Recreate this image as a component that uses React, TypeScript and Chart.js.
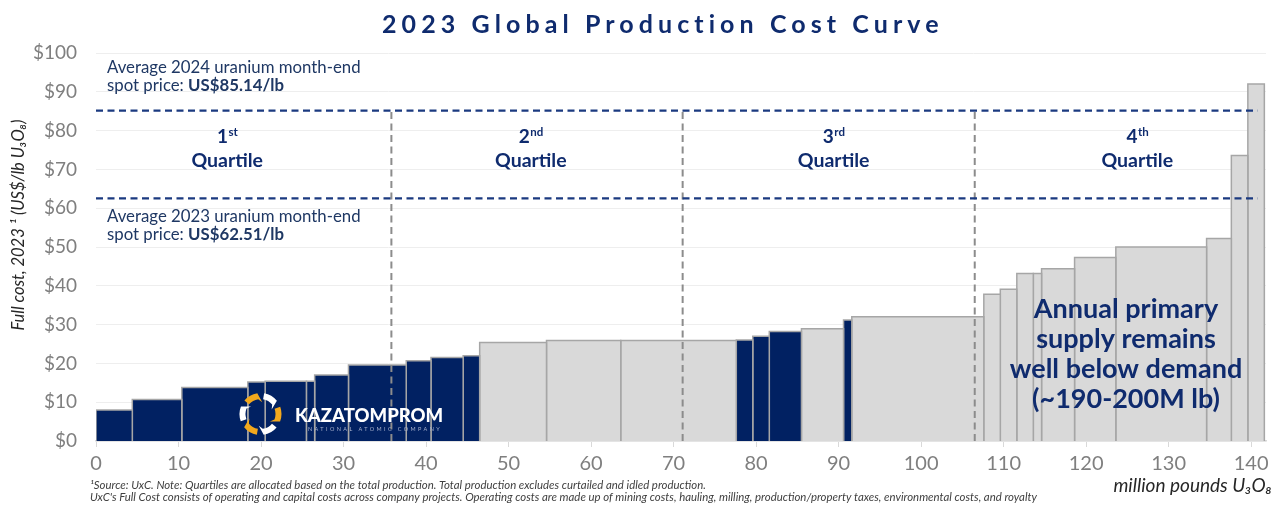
import React, { useEffect, useRef } from 'react';
import { Chart, registerables } from 'chart.js';

Chart.register(...registerables);

// production of each project (million lb U3O8), sorted by full cost
const volumes = [4.4, 6.0, 8.0, 2.1, 5.0, 1.0, 4.1, 7.0, 3.0, 3.9, 2.0, 8.1, 9.0, 14.0, 2.0, 2.0, 3.9, 5.1, 1.0, 16.0, 2.0, 2.0, 2.0, 1.0, 4.0, 5.0, 11.0, 3.0, 2.0, 2.0];
// full cost per project (US$/lb)
const costs = [8.0, 10.7, 13.8, 15.2, 15.4, 15.4, 17.0, 19.6, 20.7, 21.5, 22.0, 25.4, 25.9, 25.9, 26.0, 27.0, 28.2, 28.9, 31.2, 32.0, 37.8, 39.1, 43.2, 43.2, 44.4, 47.3, 50.0, 52.2, 73.6, 92.0];
// projects of Kazatomprom (navy)
const isKazatomprom = [true, true, true, true, true, true, true, true, true, true, true, false, false, false, true, true, true, false, true, false, false, false, false, false, false, false, false, false, false, false];

const spotYears = ['2024', '2023'];
const spotPrices = [85.14, 62.51];
const quartileBreaks = [35.8, 71.1, 106.5];
const quartileNumbers = ['1', '2', '3', '4'];
const quartileSuffixes = ['st', 'nd', 'rd', 'th'];

const xTicks = [0, 10, 20, 30, 40, 50, 60, 70, 80, 90, 100, 110, 120, 130, 140];
const yTicks = [0, 10, 20, 30, 40, 50, 60, 70, 80, 90, 100];

const NAVY = '#012162';
const TEXT_NAVY = '#0f2b6e';
const GREY = '#d9d9d9';
const EDGE = '#a6a6a6';
const FONT = "Lato, 'Open Sans', sans-serif";

const drawLogo = (ctx: CanvasRenderingContext2D, cx: number, cy: number) => {
  for (let k = 0; k < 6; k++) {
    const a0 = (-140 + k * 60) * Math.PI / 180;
    const a1 = a0 + 0.72;
    ctx.beginPath();
    ctx.arc(cx, cy, 21, a0, a1);
    ctx.lineTo(cx + Math.cos(a1 + 0.3) * 12, cy + Math.sin(a1 + 0.3) * 12);
    ctx.arc(cx, cy, 15, a1, a0, true);
    ctx.closePath();
    ctx.fillStyle = k % 2 === 0 ? '#f2a81d' : '#ffffff';
    ctx.fill();
  }
};

const overlay = {
  id: 'costCurveOverlay',
  afterDatasetsDraw(chart: any) {
    const { ctx, scales } = chart;
    const x = scales.x;
    const y = scales.y;
    ctx.save();
    ctx.textBaseline = 'alphabetic';

    // quartile labels
    const labelAt = [15.9, 52.7, 89.4, 126.2];
    quartileNumbers.forEach((num, i) => {
      const cx = x.getPixelForValue(labelAt[i]);
      ctx.fillStyle = TEXT_NAVY;
      ctx.font = `bold 19px ${FONT}`;
      const wn = ctx.measureText(num).width;
      ctx.font = `bold 11.5px ${FONT}`;
      const ws = ctx.measureText(quartileSuffixes[i]).width;
      const start = cx - (wn + ws) / 2;
      ctx.textAlign = 'left';
      ctx.font = `bold 19px ${FONT}`;
      ctx.fillText(num, start, 143);
      ctx.font = `bold 11.5px ${FONT}`;
      ctx.fillText(quartileSuffixes[i], start + wn + 0.5, 136);
      ctx.textAlign = 'center';
      ctx.font = `bold 19.5px ${FONT}`;
      ctx.fillText('Quartile', cx, 166.5);
    });

    // spot price notes
    spotPrices.forEach((price, i) => {
      const py = y.getPixelForValue(price);
      const b1 = i === 0 ? py - 38 : py + 23.5;
      const b2 = b1 + 18;
      const left = 107;
      ctx.textAlign = 'left';
      ctx.fillStyle = '#1f3864';
      ctx.font = `16.8px ${FONT}`;
      ctx.fillText(`Average ${spotYears[i]} uranium month-end`, left, b1);
      const lead = 'spot price: ';
      ctx.fillText(lead, left, b2);
      const w = ctx.measureText(lead).width;
      ctx.font = `bold 16.8px ${FONT}`;
      ctx.fillText(`US$${price.toFixed(2)}/lb`, left + w, b2);
    });

    // demand note
    ctx.textAlign = 'center';
    ctx.fillStyle = TEXT_NAVY;
    ctx.font = `bold 27px ${FONT}`;
    ['Annual primary', 'supply remains', 'well below demand', '(~190-200M lb)'].forEach((line, i) => {
      ctx.fillText(line, 1126, 318 + i * 30);
    });

    // logo
    drawLogo(ctx, 260.5, 414);
    ctx.textAlign = 'left';
    ctx.fillStyle = '#ffffff';
    ctx.font = `900 18.5px ${FONT}`;
    ctx.fillText('KAZATOMPROM', 295, 421.5);
    ctx.fillStyle = '#a9b2cc';
    ctx.font = `5.5px ${FONT}`;
    (ctx as any).letterSpacing = '2.4px';
    ctx.fillText('NATIONAL ATOMIC COMPANY', 308, 430.5);
    (ctx as any).letterSpacing = '0px';
    ctx.restore();
  },
  afterDraw(chart: any) {
    const { ctx } = chart;
    ctx.save();

    // title, spaced out to its width
    const title = '2023 Global Production Cost Curve';
    ctx.font = `bold 25px ${FONT}`;
    const plain = ctx.measureText(title).width;
    const spacing = (557 - plain) / (title.length - 1);
    (ctx as any).letterSpacing = `${spacing}px`;
    ctx.fillStyle = TEXT_NAVY;
    ctx.textAlign = 'left';
    ctx.textBaseline = 'alphabetic';
    ctx.fillText(title, 382, 33);
    (ctx as any).letterSpacing = '0px';

    // axis titles
    ctx.fillStyle = '#262626';
    ctx.save();
    ctx.translate(19, 225);
    ctx.rotate(-Math.PI / 2);
    ctx.textAlign = 'center';
    ctx.textBaseline = 'middle';
    ctx.font = `italic 16.5px ${FONT}`;
    ctx.fillText('Full cost, 2023 \u00B9 (US$/lb U\u2083O\u2088)', 0, 0);
    ctx.restore();

    ctx.textAlign = 'right';
    ctx.font = `italic 19px ${FONT}`;
    ctx.fillText('million pounds U\u2083O\u2088', 1272, 492);

    // footnotes
    ctx.textAlign = 'left';
    ctx.fillStyle = '#404040';
    ctx.font = `italic 11.4px ${FONT}`;
    ctx.fillText('\u00B9Source: UxC. Note: Quartiles are allocated based on the total production. Total production excludes curtailed and idled production.', 90, 489);
    ctx.fillText("UxC's Full Cost consists of operating and capital costs across company projects. Operating costs are made up of mining costs, hauling, milling, production/property taxes, environmental costs, and royalty", 90, 500.5);
    ctx.restore();
  },
};

const CostCurveChart = () => {
  const chartRef = useRef<HTMLCanvasElement>(null);
  const chartInstance = useRef<Chart | null>(null);

  useEffect(() => {
    if (!chartRef.current) return;
    if (chartInstance.current) chartInstance.current.destroy();

    let left = 0;
    const bars = volumes.map((w, i) => {
      const x0 = left;
      const x1 = left + w;
      left = x1;
      return {
        data: [
          { x: x0, y: 0 },
          { x: x0, y: costs[i] },
          { x: x1, y: costs[i] },
          { x: x1, y: 0 },
        ],
        fill: 'origin',
        backgroundColor: isKazatomprom[i] ? NAVY : GREY,
        borderColor: EDGE,
        borderWidth: 1.5,
        order: 2,
      };
    });

    const spotLines = spotPrices.map((p) => ({
      data: [{ x: 0, y: p }, { x: 140.8, y: p }],
      borderColor: '#1b3a80',
      borderWidth: 2.2,
      borderDash: [7, 4.5],
      fill: false,
      order: 0,
    }));

    const quartileLines = quartileBreaks.map((q) => ({
      data: [{ x: q, y: 0 }, { x: q, y: spotPrices[0] }],
      borderColor: '#8c8c8c',
      borderWidth: 2,
      borderDash: [7, 4.5],
      fill: false,
      order: 1,
    }));

    chartInstance.current = new Chart(chartRef.current, {
      type: 'line',
      data: { datasets: [...bars, ...quartileLines, ...spotLines] as any },
      options: {
        animation: false,
        responsive: true,
        maintainAspectRatio: false,
        layout: { padding: { top: 53, right: 14, left: 0, bottom: 0 } },
        elements: { line: { tension: 0 }, point: { radius: 0, hoverRadius: 0 } },
        plugins: {
          legend: { display: false },
          tooltip: { enabled: false },
        },
        scales: {
          x: {
            type: 'linear',
            min: 0,
            max: 141.8,
            afterBuildTicks: (s: any) => {
              s.ticks = xTicks.map((value) => ({ value }));
            },
            afterFit: (s: any) => {
              s.height = 64;
            },
            grid: { drawOnChartArea: false, drawTicks: true, tickLength: 6, color: '#d9d9d9' },
            border: { color: '#d9d9d9', width: 1.5 },
            ticks: {
              padding: 5,
              color: '#7f7f7f',
              font: { family: FONT, size: 20 },
              maxRotation: 0,
              autoSkip: false,
            },
          },
          y: {
            min: 0,
            max: 100,
            afterBuildTicks: (s: any) => {
              s.ticks = yTicks.map((value) => ({ value }));
            },
            afterFit: (s: any) => {
              s.width = 96;
            },
            grid: { color: '#eeeeee', drawTicks: false },
            border: { display: false },
            ticks: {
              padding: 19,
              color: '#7f7f7f',
              font: { family: FONT, size: 19 },
              callback: (v: any) => `$${v}`,
            },
          },
        },
      },
      plugins: [overlay],
    });

    return () => {
      if (chartInstance.current) {
        chartInstance.current.destroy();
        chartInstance.current = null;
      }
    };
  }, []);

  return (
    <div style={{ position: 'fixed', left: 0, top: 0, width: 1280, height: 505, background: '#ffffff' }}>
      <canvas ref={chartRef}></canvas>
    </div>
  );
};

export default function App() {
  return <CostCurveChart />;
}
